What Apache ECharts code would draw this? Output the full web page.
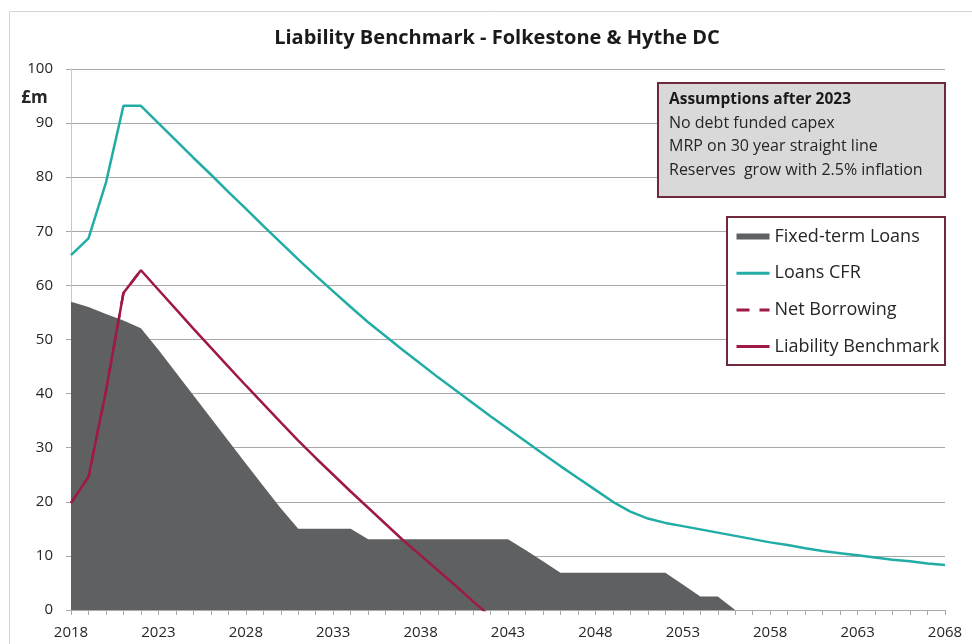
<!DOCTYPE html>
<html>
<head>
<meta charset="utf-8">
<script src="https://cdn.jsdelivr.net/npm/echarts@6/dist/echarts.min.js"></script>
<style>
  html, body { margin: 0; padding: 0; background: #ffffff; }
  #chart { width: 972px; height: 644px; }
</style>
</head>
<body>
<div id="chart"></div>
<script>
// Financial years on the horizontal axis
const years = [
  '2018','2019','2020','2021','2022','2023','2024','2025','2026','2027',
  '2028','2029','2030','2031','2032','2033','2034','2035','2036','2037',
  '2038','2039','2040','2041','2042','2043','2044','2045','2046','2047',
  '2048','2049','2050','2051','2052','2053','2054','2055','2056','2057',
  '2058','2059','2060','2061','2062','2063','2064','2065','2066','2067','2068'
];

// £m balances
const fixedTermLoans = [
  57.0, 56.0, 54.7, 53.5, 52.1, 48.1, 43.9, 39.7, 35.5, 31.3,
  27.1, 22.9, 18.8, 15.0, 15.0, 15.0, 15.0, 13.1, 13.1, 13.1,
  13.1, 13.1, 13.1, 13.1, 13.1, 13.1, 11.1, 9.0, 6.9, 6.9,
  6.9, 6.9, 6.9, 6.9, 6.9, 4.7, 2.5, 2.5, 0, 0,
  0, 0, 0, 0, 0, 0, 0, 0, 0, 0, 0
];

const loansCFR = [
  65.6, 68.7, 79.0, 93.2, 93.2, 90.0, 86.8, 83.6, 80.5, 77.3,
  74.2, 71.0, 67.9, 64.8, 61.8, 58.9, 56.0, 53.2, 50.6, 48.0,
  45.5, 43.0, 40.6, 38.2, 35.8, 33.5, 31.2, 28.9, 26.6, 24.4,
  22.2, 20.0, 18.2, 16.9, 16.1, 15.5, 14.9, 14.3, 13.7, 13.1,
  12.5, 12.0, 11.4, 10.9, 10.5, 10.1, 9.7, 9.3, 9.0, 8.6, 8.3
];

const netBorrowing = [19.8, 24.6, 40.5, 58.6, 62.8];

const liabilityBenchmark = [
  19.8, 24.6, 40.5, 58.6, 62.8, 59.2, 55.6, 52.0, 48.5, 45.0,
  41.5, 38.1, 34.7, 31.3, 28.1, 25.0, 21.9, 18.9, 15.9, 12.9,
  10.1, 7.3, 4.5, 1.6, -1.2
];

const seriesNames = ['Fixed-term Loans', 'Loans CFR', 'Net Borrowing', 'Liability Benchmark'];

const titleText = 'Liability Benchmark - Folkestone & Hythe DC';
const unitText = '£m';
const assumptionsHeading = 'Assumptions after 2023';
const assumptionsLines = [
  'No debt funded capex',
  'MRP on 30 year straight line',
  'Reserves  grow with 2.5% inflation'
];

const FONT = '"Open Sans", Lato, sans-serif';
const GREY = '#5f6062';
const TEAL = '#22aca6';
const CRIMSON = '#9e1a45';
const FRAME = '#6e2a3a';
const GRID = '#a8a8a8';
const TEXT = '#262626';

const chart = echarts.init(document.getElementById('chart'), null, { renderer: 'canvas' });

chart.setOption({
  backgroundColor: '#ffffff',
  animation: false,
  grid: { left: 71, right: 27, top: 69, bottom: 34 },
  xAxis: {
    type: 'category',
    data: years,
    boundaryGap: false,
    axisLine: { show: true, lineStyle: { color: GRID, width: 1 } },
    axisTick: { show: true, interval: 0, length: 5, lineStyle: { color: GRID } },
    axisLabel: { interval: 4, margin: 15, color: TEXT, fontFamily: FONT, fontSize: 15 },
    splitLine: { show: false }
  },
  yAxis: {
    type: 'value',
    min: 0,
    max: 100,
    interval: 10,
    axisLine: { show: true, lineStyle: { color: '#c8c8c8', width: 1 } },
    axisTick: { show: true, length: 5, lineStyle: { color: GRID } },
    axisLabel: { margin: 18, color: TEXT, fontFamily: FONT, fontSize: 15 },
    splitLine: { show: true, lineStyle: { color: GRID, width: 1 } }
  },
  legend: {
    left: 735,
    top: 227.5,
    orient: 'vertical',
    selectedMode: false,
    itemWidth: 33,
    itemHeight: 6,
    itemGap: 18.7,
    padding: 0,
    z: 20,
    // hide the marker dot that line series add to their legend icon
    itemStyle: { opacity: 0 },
    lineStyle: { width: 3 },
    textStyle: { color: TEXT, fontFamily: FONT, fontSize: 18, lineHeight: 18 },
    data: [
      { name: seriesNames[0], icon: 'rect', itemStyle: { opacity: 1 } },
      { name: seriesNames[1] },
      { name: seriesNames[2] },
      { name: seriesNames[3] }
    ]
  },
  graphic: [
    {
      type: 'rect',
      shape: { x: 9.5, y: 11.5, width: 1000, height: 700 },
      style: { fill: 'none', stroke: '#d4d4d4', lineWidth: 1 },
      silent: true,
      z: -10
    },
    {
      type: 'text',
      x: 497, y: 38,
      style: {
        text: titleText, align: 'center', verticalAlign: 'middle',
        font: 'bold 20px ' + FONT, fill: '#1a1a1a'
      }
    },
    {
      type: 'text',
      x: 34.5, y: 98,
      style: {
        text: unitText, align: 'center', verticalAlign: 'middle',
        font: 'bold 17px ' + FONT, fill: TEXT
      }
    },
    // assumptions note
    {
      type: 'rect',
      z: 10,
      shape: { x: 658, y: 83, width: 287, height: 114 },
      style: { fill: '#d9d9d9', stroke: FRAME, lineWidth: 2 }
    },
    {
      type: 'text', x: 669, y: 100, z: 11,
      style: { text: assumptionsHeading, verticalAlign: 'middle', font: 'bold 15.5px ' + FONT, fill: '#1a1a1a' }
    },
    {
      type: 'text', x: 669, y: 123.3, z: 11,
      style: { text: assumptionsLines[0], verticalAlign: 'middle', font: '16px ' + FONT, fill: TEXT }
    },
    {
      type: 'text', x: 669, y: 146.6, z: 11,
      style: { text: assumptionsLines[1], verticalAlign: 'middle', font: '16px ' + FONT, fill: TEXT }
    },
    {
      type: 'text', x: 669, y: 170, z: 11,
      style: { text: assumptionsLines[2], verticalAlign: 'middle', font: '16px ' + FONT, fill: TEXT }
    },
    // legend frame
    {
      type: 'rect',
      z: 10,
      shape: { x: 727, y: 217, width: 218, height: 148 },
      style: { fill: '#ffffff', stroke: FRAME, lineWidth: 2 }
    }
  ],
  series: [
    {
      name: seriesNames[0],
      type: 'line',
      data: fixedTermLoans,
      symbol: 'none',
      color: GREY,
      lineStyle: { width: 0, color: GREY },
      areaStyle: { color: GREY, opacity: 1 },
      z: 2
    },
    {
      name: seriesNames[1],
      type: 'line',
      data: loansCFR,
      symbol: 'none',
      color: TEAL,
      lineStyle: { width: 2.5, color: TEAL },
      z: 3
    },
    {
      name: seriesNames[2],
      type: 'line',
      data: netBorrowing,
      symbol: 'none',
      color: CRIMSON,
      lineStyle: { width: 2.5, color: CRIMSON, type: [13, 10] },
      z: 3
    },
    {
      name: seriesNames[3],
      type: 'line',
      data: liabilityBenchmark,
      symbol: 'none',
      color: CRIMSON,
      lineStyle: { width: 2.5, color: CRIMSON },
      z: 4
    }
  ]
});
</script>
</body>
</html>
